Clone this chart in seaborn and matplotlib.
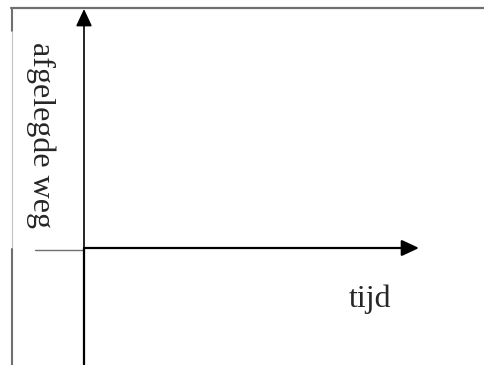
import matplotlib.pyplot as plt
import seaborn as sns

# Labels of the diagram
y_label = "afgelegde weg"
x_label = "tijd"

# Diagram geometry (pixel units of the 484x365 canvas)
width, height = 484, 365
origin = (84, 248)
x_axis_end = 419
y_axis_top = 9
y_axis_bottom = 365

sns.set_theme(style="white")
plt.rcParams['font.family'] = ['Liberation Serif', 'DejaVu Serif']

fig = plt.figure(figsize=(4.84, 3.65), dpi=100)
ax = fig.add_axes([0, 0, 1, 1])
ax.set_xlim(0, width)
ax.set_ylim(height, 0)
ax.axis('off')

# Frame pieces (text box border and surrounding lines)
frame = [
    ([11, 484], [8, 8], '#707070', 1.6),
    ([11.5, 11.5], [8, 31], '#707070', 1.5),
    ([11.5, 11.5], [31, 248], '#c0c0c0', 0.8),
    ([11.5, 11.5], [249, 365], '#707070', 1.5),
    ([35, 84], [249.5, 249.5], '#707070', 1.0),
]
for xs, ys, col, lw in frame:
    # estimator=None keeps vertical segments from being averaged away
    sns.lineplot(x=xs, y=ys, ax=ax, color=col, linewidth=lw,
                 sort=False, estimator=None)

# Axes with arrow heads
arrow = dict(arrowstyle='-|>,head_length=0.75,head_width=0.35', color='black',
             shrinkA=0, shrinkB=0, mutation_scale=14)
ax.annotate('', xy=(x_axis_end, origin[1]), xytext=(origin[0], origin[1]),
            arrowprops=dict(arrow, linewidth=1.6))
ax.annotate('', xy=(origin[0], y_axis_top), xytext=(origin[0], y_axis_bottom),
            arrowprops=dict(arrow, linewidth=1.2))
sns.lineplot(x=[origin[0], origin[0]], y=[origin[1], y_axis_bottom], ax=ax,
             color='black', linewidth=1.6, sort=False, estimator=None)

ax.text(41, 135, y_label, rotation=-90, ha='center', va='center', fontsize=23)
ax.text(349, 307, x_label, ha='left', va='baseline', fontsize=23)

fig.savefig('out.png', dpi=100)
